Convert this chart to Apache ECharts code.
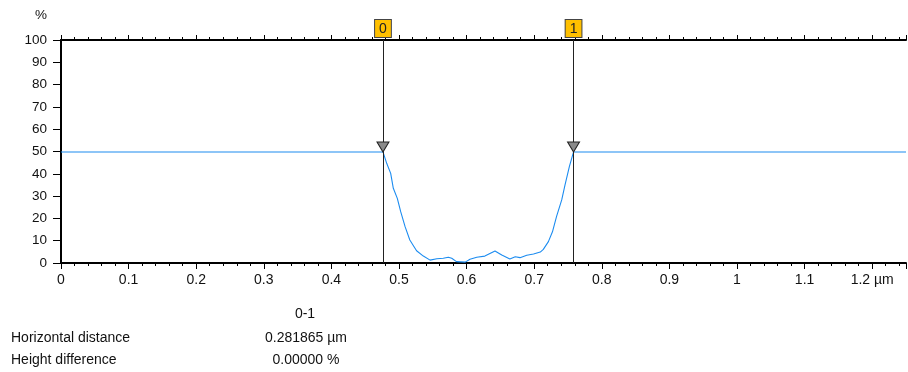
<!DOCTYPE html>
<html lang="en" style="height: 100%">
<head>
  <meta charset="utf-8">
</head>
<body style="height: 100%; margin: 0; background: #fff">
  <div id="container" style="width: 908px; height: 372px"></div>

  <script type="text/javascript" src="https://fastly.jsdelivr.net/npm/echarts@6/dist/echarts.min.js"></script>

  <script type="text/javascript">
    // profile (x in µm, y in %)
    var xs = [0, 0.4763, 0.4818, 0.4877, 0.4916, 0.4975, 0.5025, 0.509, 0.516, 0.526, 0.536, 0.546,
      0.556, 0.5655, 0.573, 0.578, 0.585, 0.598, 0.605, 0.615, 0.627, 0.642, 0.652, 0.664, 0.672,
      0.679, 0.689, 0.699, 0.709, 0.7135, 0.721, 0.727, 0.733, 0.7407, 0.7456, 0.752, 0.7582, 1.25];
    var ys = [49.8, 49.8, 44.7, 40.2, 33.5, 29, 23, 16.3, 10.3, 5.5, 3.1, 1.3,
      1.9, 2.1, 2.6, 2.1, 0.6, 0.4, 1.7, 2.6, 3.1, 5.4, 3.6, 1.8, 2.8,
      2.4, 3.5, 4.0, 4.9, 6.1, 9.6, 14, 20.8, 28.3, 35, 43.2, 49.8, 49.8];

    var cursorNames = ['0', '1'];
    var cursorX = [0.4763, 0.7582];
    var cursorY = [49.8, 49.8];

    var resultHeader = '0-1';
    var resultNames = ['Horizontal distance', 'Height difference'];
    var resultValues = ['0.281865 µm', '0.00000 %'];

    var dom = document.getElementById('container');
    var myChart = echarts.init(dom, null, { renderer: 'canvas' });

    var font = 'Liberation Sans';
    var fs = 13.5;
    var fsInfo = 14;

    var texts = [{
      type: 'text', x: 305, y: 314,
      style: { text: resultHeader, font: fsInfo + 'px ' + font, fill: '#111', align: 'center', verticalAlign: 'middle' }
    }];
    for (let i = 0; i < resultNames.length; i++) {
      texts.push({
        type: 'text', x: 11, y: 338 + i * 22,
        style: { text: resultNames[i], font: fsInfo + 'px ' + font, fill: '#111', verticalAlign: 'middle' }
      });
      texts.push({
        type: 'text', x: 306, y: 338 + i * 22,
        style: { text: resultValues[i], font: fsInfo + 'px ' + font, fill: '#111', align: 'center', verticalAlign: 'middle' }
      });
    }

    var option = {
      animation: false,
      textStyle: { fontFamily: font },
      grid: { left: 61, right: 2, top: 40, bottom: 109 },
      graphic: texts,
      xAxis: [
        {
          type: 'value', position: 'bottom', min: 0, max: 1.25, interval: 0.1,
          axisLine: { lineStyle: { color: '#000', width: 2 } },
          axisTick: { length: 6, lineStyle: { color: '#000' } },
          minorTick: { show: true, splitNumber: 5, length: 3, lineStyle: { color: '#000' } },
          splitLine: { show: false },
          axisLabel: {
            color: '#111', fontSize: fsInfo, margin: 10, showMaxLabel: false,
            formatter: function (v) {
              var s = String(Math.round(v * 10) / 10);
              return Math.abs(v - 1.2) < 1e-6 ? s + ' µm' : s;
            }
          }
        },
        {
          type: 'value', position: 'top', min: 0, max: 1.25, interval: 0.1,
          axisLine: { lineStyle: { color: '#000', width: 2 } },
          axisTick: { length: 5, lineStyle: { color: '#000' } },
          minorTick: { show: true, splitNumber: 5, length: 3, lineStyle: { color: '#000' } },
          splitLine: { show: false },
          axisLabel: { show: false }
        }
      ],
      yAxis: {
        type: 'value', min: 0, max: 100, interval: 10,
        name: '%', nameGap: 18, nameTextStyle: { color: '#111', fontSize: fs, align: 'right', padding: [0, 14, 0, 0] },
        axisLine: { show: true, lineStyle: { color: '#000', width: 2 } },
        axisTick: { show: true, length: 8, lineStyle: { color: '#000' } },
        splitLine: { show: false },
        axisLabel: { color: '#111', fontSize: fs, margin: 14 }
      },
      series: [
        {
          type: 'line',
          data: xs.map((x, i) => [x, ys[i]]),
          symbol: 'none',
          lineStyle: { color: '#1c8cf0', width: 1.1 },
          markLine: {
            silent: true,
            symbol: 'none',
            lineStyle: { color: '#222', width: 1, type: 'solid' },
            label: {
              position: 'end', distance: 3,
              formatter: function (p) { return p.data.cname; },
              color: '#222', fontSize: 14,
              backgroundColor: '#ffc000', borderColor: '#444', borderWidth: 1,
              padding: [2, 4, 1, 4]
            },
            data: cursorX.map((x, i) => [
              { coord: [x, 0], cname: cursorNames[i] },
              { coord: [x, 100], cname: cursorNames[i] }
            ])
          },
          markPoint: {
            silent: true,
            symbol: 'triangle',
            symbolSize: [12, 10],
            symbolRotate: 180,
            symbolOffset: [0, -5],
            itemStyle: { color: '#8a8a8a', borderColor: '#222', borderWidth: 1 },
            label: { show: false },
            data: cursorX.map((x, i) => ({ coord: [x, cursorY[i]] }))
          }
        }
      ]
    };

    myChart.setOption(option);
    window.addEventListener('resize', myChart.resize);
  </script>
</body>
</html>
